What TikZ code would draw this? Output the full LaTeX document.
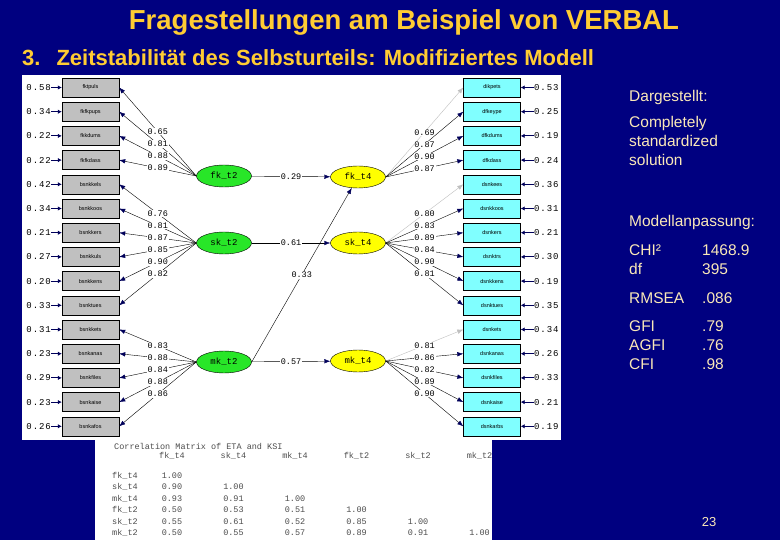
\documentclass[tikz,border=0pt]{standalone}
\usepackage{fontspec}
\setmainfont{Liberation Sans}
\newfontfamily\lisfont{Liberation Mono}
\newfontfamily\errfont[LetterSpace=10]{Liberation Mono}
\usetikzlibrary{shapes.geometric,arrows.meta}
\definecolor{slideblue}{RGB}{0,0,128}
\definecolor{titleyellow}{RGB}{255,204,51}
\definecolor{notecream}{RGB}{250,232,184}
\definecolor{boxgray}{RGB}{192,192,192}
\definecolor{boxcyan}{RGB}{128,255,255}
\definecolor{latgreen}{RGB}{40,230,40}
\definecolor{latyellow}{RGB}{255,255,0}
\definecolor{tipnavy}{RGB}{0,0,90}
\begin{document}
\begin{tikzpicture}[x=1pt,y=-1pt,every node/.style={inner sep=0pt},
  ind2/.style={draw,fill=boxgray,minimum width=57pt,minimum height=19pt,font=\fontsize{5.5}{6}\selectfont},
  ind4/.style={ind2,fill=boxcyan},
  lat2/.style={ellipse,draw,fill=latgreen,minimum width=55pt,minimum height=22pt,font=\lisfont\fontsize{9}{10}\selectfont},
  lat4/.style={lat2,fill=latyellow},
  lnk/.style={draw=black,thin,-{Latex[length=6pt,width=4.5pt,color=tipnavy]}},
  fixd/.style={draw=black!25,thin,-{Latex[length=6pt,width=4.5pt,color=black!25]}},
  errarr/.style={draw=tipnavy,line width=1.1pt,-{Latex[length=4pt,width=4.5pt]}},
  num/.style={font=\lisfont\fontsize{8.5}{9}\selectfont,fill=white,inner sep=0.8pt},
  err/.style={font=\errfont\fontsize{9}{10}\selectfont},
  mat/.style={font=\lisfont\fontsize{8.5}{9}\selectfont,text=black!70},
  note/.style={text=notecream,font=\fontsize{15.5}{19}\selectfont,anchor=west}]
  \useasboundingbox (0,0) rectangle (780,540);
  \fill[slideblue] (0,0) rectangle (780,540);
  \fill[white] (22,75) rectangle (561,440);
  \fill[white] (95,440) rectangle (492,540);
  % headings
  \node[text=titleyellow,font=\bfseries\fontsize{27.5}{30}\selectfont] (title) at (404,22) {Fragestellungen am Beispiel von VERBAL};
  \node[text=titleyellow,font=\bfseries\fontsize{22}{24}\selectfont,anchor=west] (sub) at (22,58) {3.\hspace{16pt}Zeitstabilität des Selbsturteils: Modifiziertes Modell};
  % indicators and residuals
  \foreach \nm/\v [count=\i] in {fktpuls/0.58,fkfkpups/0.34,fkkdums/0.22,fkfkdass/0.22,bsnkkels/0.42,bsnkkoos/0.34,bsnkkers/0.21,bsnkkuls/0.27,bsnkkens/0.20,bsnktues/0.33,bsnkkets/0.31,bsnkanas/0.23,bsnkfiles/0.29,bsnkaise/0.23,bsnkafos/0.26}{
    \node[ind2] (lb\i) at (90.5,{63.3+24.2*\i}) {\nm};
    \node[err,anchor=east] (le\i) at (51,{63.3+24.2*\i}) {\v};
    \draw[errarr] (le\i) -- (lb\i);
  }
  \foreach \nm/\v [count=\i] in {dikpets/0.53,dfkeype/0.25,dfkdums/0.19,dfkdass/0.24,dsnkees/0.36,dsnkkoos/0.31,dsnkers/0.21,dsnktrs/0.30,dsnkkens/0.19,dsnktues/0.35,dsnkets/0.34,dsnkanas/0.26,dsnkfiles/0.33,dsnkaise/0.21,dsnkarbs/0.19}{
    \node[ind4] (rb\i) at (492,{63.3+24.2*\i}) {\nm};
    \node[err,anchor=west] (re\i) at (534,{63.3+24.2*\i}) {\v};
    \draw[errarr] (re\i) -- (rb\i);
  }
  % latent variables
  \node[lat2] (fk2) at (224,176) {fk\_t2};
  \node[lat2] (sk2) at (224,243) {sk\_t2};
  \node[lat2] (mk2) at (224,362) {mk\_t2};
  \node[lat4] (fk4) at (358,177) {fk\_t4};
  \node[lat4] (sk4) at (358,243) {sk\_t4};
  \node[lat4] (mk4) at (358,361) {mk\_t4};
  % loadings t2
  \foreach \k/\v in {1/0.65,2/0.81,3/0.88,4/0.89}
    \draw[lnk] (fk2.west) -- node[num] (fl\k) {\v} (lb\k.east);
  \foreach \k/\v in {5/0.76,6/0.81,7/0.87,8/0.85,9/0.90,10/0.82}
    \draw[lnk] (sk2.west) -- node[num] (sl\k) {\v} (lb\k.east);
  \foreach \k/\v in {11/0.83,12/0.88,13/0.84,14/0.88,15/0.86}
    \draw[lnk] (mk2.west) -- node[num] (ml\k) {\v} (lb\k.east);
  % loadings t4
  \draw[fixd] (fk4.east) -- node[num] (fr1) {0.69} (rb1.west);
  \foreach \k/\v in {2/0.87,3/0.90,4/0.87}
    \draw[lnk] (fk4.east) -- node[num] (fr\k) {\v} (rb\k.west);
  \draw[fixd] (sk4.east) -- node[num] (sr5) {0.80} (rb5.west);
  \foreach \k/\v in {6/0.83,7/0.89,8/0.84,9/0.90,10/0.81}
    \draw[lnk] (sk4.east) -- node[num] (sr\k) {\v} (rb\k.west);
  \draw[fixd] (mk4.east) -- node[num] (mr11) {0.81} (rb11.west);
  \foreach \k/\v in {12/0.86,13/0.82,14/0.89,15/0.90}
    \draw[lnk] (mk4.east) -- node[num] (mr\k) {\v} (rb\k.west);
  % stability paths
  \draw[lnk] (mk2.east) -- node[num] (g33) {0.33} (fk4);
  \draw[lnk] (fk2) -- node[num] (g29) {0.29} (fk4);
  \draw[lnk] (sk2) -- node[num] (g61) {0.61} (sk4);
  \draw[lnk] (mk2) -- node[num] (g57) {0.57} (mk4);
  % correlation matrix
  \node[mat,anchor=west] (mtitle) at (114,446) {Correlation Matrix of ETA and KSI};
  \foreach \h [count=\j] in {fk\_t4,sk\_t4,mk\_t4,fk\_t2,sk\_t2,mk\_t2}
    \node[mat] (h\j) at ({110.5+61.5*\j},456) {\h};
  \foreach \r/\vals [count=\i] in {fk\_t4/{1.00},sk\_t4/{0.90,1.00},mk\_t4/{0.93,0.91,1.00},fk\_t2/{0.50,0.53,0.51,1.00},sk\_t2/{0.55,0.61,0.52,0.85,1.00},mk\_t2/{0.50,0.55,0.57,0.89,0.91,1.00}}{
    \node[mat,anchor=west] (r\i) at (112,{464+11.5*\i}) {\r};
    \foreach \v [count=\j] in \vals
      \node[mat] (m\i\j) at ({110.5+61.5*\j},{464+11.5*\i}) {\v};
  }
  % notes
  \node[note] (n1) at (629,97) {Dargestellt:};
  \node[note,anchor=north west,align=left] (n2) at (629,116) {Completely\\standardized\\solution};
  \node[note] (n3) at (629,222) {Modellanpassung:};
  \node[note] (chi) at (629,250) {CHI²};
  \node[note] (chiv) at (702,250) {1468.9};
  \node[note] (df) at (629,269) {df};
  \node[note] (dfv) at (702,269) {395};
  \node[note] (rmsea) at (629,298) {RMSEA};
  \node[note] (rmseav) at (702,298) {.086};
  \node[note] (gfi) at (629,326) {GFI};
  \node[note] (gfiv) at (702,326) {.79};
  \node[note] (agfi) at (629,345) {AGFI};
  \node[note] (agfiv) at (702,345) {.76};
  \node[note] (cfi) at (629,364) {CFI};
  \node[note] (cfiv) at (702,364) {.98};
  \node[text=notecream,font=\fontsize{13}{15}\selectfont] (page) at (709,522) {23};
\end{tikzpicture}
\end{document}
